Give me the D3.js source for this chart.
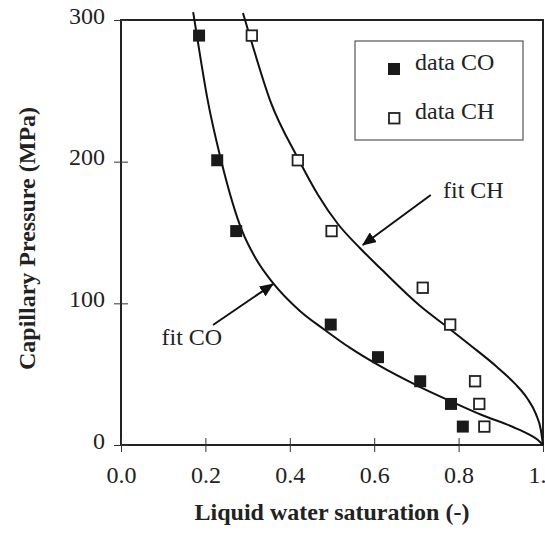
<!DOCTYPE html>
<html>
<head>
<meta charset="utf-8">
<script src="https://cdn.jsdelivr.net/npm/d3@7"></script>
<style>
  body { margin: 0; background: #fff; }
  text { font-family: "Liberation Serif", "Times New Roman", serif; fill: #222; }
</style>
</head>
<body>
<div id="container"></div>
<script>
/* CONSTANTS AND GLOBALS */
const width = 545;
const height = 535;

// tick values
const xTicks = [0, 0.2, 0.4, 0.6, 0.8, 1.0];
const yTicks = [0, 100, 200, 300];

// measured points
const coSat = [0.185, 0.228, 0.273, 0.497, 0.609, 0.709, 0.782, 0.810];
const coPc  = [289, 201, 151, 85, 62, 45, 29, 13];
const chSat = [0.310, 0.419, 0.499, 0.715, 0.780, 0.839, 0.849, 0.861];
const chPc  = [289, 201, 151, 111, 85, 45, 29, 13];

// fitted curves
const coFitSat = [0.171, 0.180, 0.204, 0.237, 0.287, 0.320, 0.360, 0.424, 0.483, 0.543, 0.609, 0.709, 0.780, 0.855, 0.929, 0.969, 0.988, 1.0];
const coFitPc  = [305.6, 288.7, 245.6, 201.2, 151.1, 131.3, 114.4, 94.6, 81.2, 68.5, 56.5, 40.9, 31.1, 21.2, 12.7, 7.1, 3.5, 0];
const chFitSat = [0.289, 0.308, 0.353, 0.419, 0.467, 0.514, 0.566, 0.614, 0.709, 0.773, 0.827, 0.891, 0.934, 0.962, 0.983, 0.995, 1.0];
const chFitPc  = [304.9, 285.9, 243.5, 202.6, 176.5, 156.0, 139.1, 124.9, 98.1, 83.3, 70.6, 55.1, 43.1, 33.2, 21.9, 10.6, 0];

// annotations
const fitLabels = ["fit CO", "fit CH"];
const labelSat = [0.096, 0.763];
const labelPc  = [70.6, 174.4];
const arrowFromSat = [0.218, 0.734];
const arrowFromPc  = [84.7, 176.5];
const arrowToSat   = [0.360, 0.573];
const arrowToPc    = [113.6, 141.2];

const legendLabels = ["data CO", "data CH"];

/* SCALES */
const xScale = d3.scaleLinear().domain([0, 1]).range([121, 543]);
const yScale = d3.scaleLinear().domain([0, 300]).range([445, 20]);

/* SVG */
const svg = d3.select("#container")
  .append("svg")
  .attr("width", width)
  .attr("height", height);

svg.append("defs").append("marker")
  .attr("id", "arrow")
  .attr("markerUnits", "userSpaceOnUse")
  .attr("viewBox", "0 0 14 12")
  .attr("refX", 13)
  .attr("refY", 6)
  .attr("markerWidth", 14)
  .attr("markerHeight", 12)
  .attr("orient", "auto")
  .append("path")
  .attr("d", "M0,0 L14,6 L0,12 Z")
  .attr("fill", "#111");

// frame
svg.append("rect")
  .attr("x", xScale(0))
  .attr("y", yScale(300))
  .attr("width", xScale(1) - xScale(0))
  .attr("height", yScale(0) - yScale(300))
  .attr("fill", "none")
  .attr("stroke", "#222")
  .attr("stroke-width", 2);

// x-axis
const xAxis = d3.axisBottom(xScale)
  .tickValues(xTicks)
  .tickFormat(d3.format(".1f"))
  .tickSize(7);
const gx = svg.append("g")
  .attr("transform", `translate(0, ${yScale(0)})`)
  .call(xAxis);
gx.select(".domain").remove();
gx.selectAll(".tick line").attr("y1", -7).attr("stroke", "#333");
gx.selectAll(".tick text")
  .attr("y", 38).attr("dy", 0)
  .style("font-size", "24px");

// y-axis
const yAxis = d3.axisLeft(yScale)
  .tickValues(yTicks)
  .tickSize(7);
const gy = svg.append("g")
  .attr("transform", `translate(${xScale(0)}, 0)`)
  .call(yAxis);
gy.select(".domain").remove();
gy.selectAll(".tick line").attr("x1", 7).attr("stroke", "#333");
gy.selectAll(".tick text")
  .attr("x", -16).attr("y", 3).attr("dy", 0)
  .style("font-size", "24px");

// axis labels
svg.append("text")
  .attr("text-anchor", "middle")
  .attr("x", (xScale(0) + xScale(1)) / 2)
  .attr("y", 520)
  .style("font-size", "24px")
  .style("font-weight", "bold")
  .text("Liquid water saturation (-)");

svg.append("text")
  .attr("text-anchor", "middle")
  .attr("transform", "rotate(-90)")
  .attr("x", -((yScale(0) + yScale(300)) / 2 + 6))
  .attr("y", 35)
  .style("font-size", "24px")
  .style("font-weight", "bold")
  .text("Capillary Pressure (MPa)");

// fit curves
const line = d3.line()
  .x(d => xScale(d[0]))
  .y(d => yScale(d[1]))
  .curve(d3.curveMonotoneX);

svg.append("path")
  .datum(d3.zip(coFitSat, coFitPc))
  .attr("d", line)
  .attr("fill", "none")
  .attr("stroke", "#111")
  .attr("stroke-width", 2);

svg.append("path")
  .datum(d3.zip(chFitSat, chFitPc))
  .attr("d", line)
  .attr("fill", "none")
  .attr("stroke", "#111")
  .attr("stroke-width", 2);

// data points
const sq = 12;
svg.selectAll("rect.co")
  .data(d3.zip(coSat, coPc))
  .join("rect")
  .attr("class", "co")
  .attr("x", d => xScale(d[0]) - sq / 2)
  .attr("y", d => yScale(d[1]) - sq / 2)
  .attr("width", sq)
  .attr("height", sq)
  .attr("fill", "#1a1a1a");

svg.selectAll("rect.ch")
  .data(d3.zip(chSat, chPc))
  .join("rect")
  .attr("class", "ch")
  .attr("x", d => xScale(d[0]) - (sq - 1.5) / 2)
  .attr("y", d => yScale(d[1]) - (sq - 1.5) / 2)
  .attr("width", sq - 1.5)
  .attr("height", sq - 1.5)
  .attr("fill", "#fff")
  .attr("stroke", "#222")
  .attr("stroke-width", 1.8);

// annotations
svg.selectAll("text.fit")
  .data(fitLabels)
  .join("text")
  .attr("class", "fit")
  .attr("x", (d, i) => xScale(labelSat[i]))
  .attr("y", (d, i) => yScale(labelPc[i]))
  .style("font-size", "24px")
  .text(d => d);

svg.selectAll("line.arrow")
  .data(fitLabels)
  .join("line")
  .attr("class", "arrow")
  .attr("x1", (d, i) => xScale(arrowFromSat[i]))
  .attr("y1", (d, i) => yScale(arrowFromPc[i]))
  .attr("x2", (d, i) => xScale(arrowToSat[i]))
  .attr("y2", (d, i) => yScale(arrowToPc[i]))
  .attr("stroke", "#111")
  .attr("stroke-width", 2)
  .attr("marker-end", "url(#arrow)");

// legend
const legend = svg.append("g").attr("transform", "translate(355, 41)");
legend.append("rect")
  .attr("width", 168)
  .attr("height", 99)
  .attr("fill", "#fff")
  .attr("stroke", "#555")
  .attr("stroke-width", 1.2);

legend.append("rect")
  .attr("x", 33).attr("y", 22)
  .attr("width", 12).attr("height", 12)
  .attr("fill", "#1a1a1a");
legend.append("rect")
  .attr("x", 34).attr("y", 72)
  .attr("width", 10.5).attr("height", 10.5)
  .attr("fill", "#fff")
  .attr("stroke", "#222")
  .attr("stroke-width", 1.8);

legend.selectAll("text")
  .data(legendLabels)
  .join("text")
  .attr("x", 60)
  .attr("y", (d, i) => 29 + i * 49)
  .style("font-size", "24px")
  .text(d => d);
</script>
</body>
</html>
